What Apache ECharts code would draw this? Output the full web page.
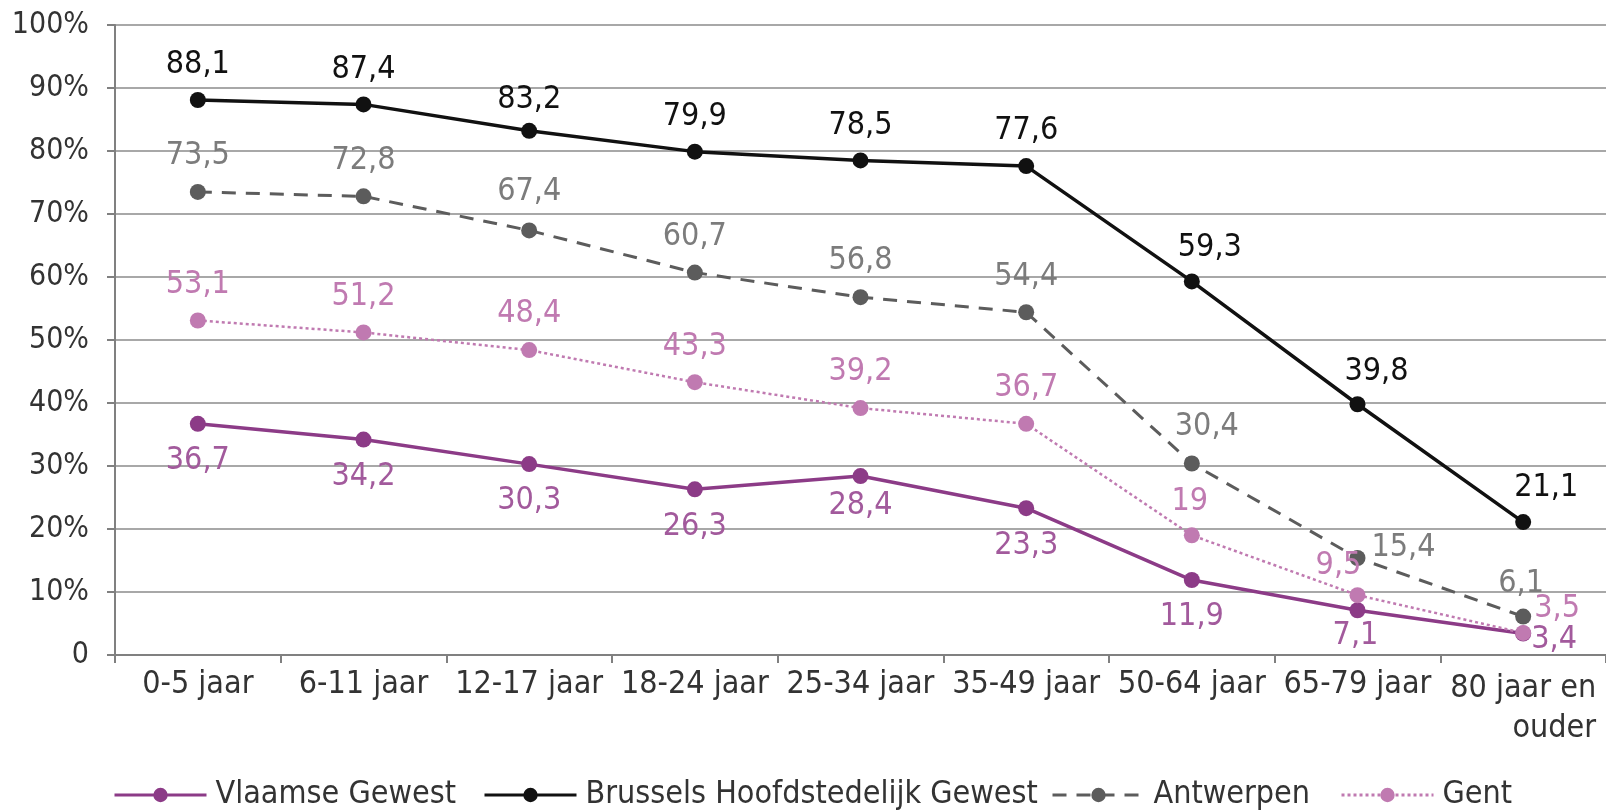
<!DOCTYPE html>
<html>
<head>
<meta charset="utf-8">
<title>chart</title>
<script src="https://cdn.jsdelivr.net/npm/echarts@6/dist/echarts.min.js"></script>
<style>
html, body { margin: 0; padding: 0; background: #fff; }
#main-echarts { width: 1606px; height: 810px; }
</style>
</head>
<body>
<div id="main-echarts"></div>
<script>
// 数据
var categories = ['0-5 jaar', '6-11 jaar', '12-17 jaar', '18-24 jaar', '25-34 jaar', '35-49 jaar', '50-64 jaar', '65-79 jaar', '80 jaar en\nouder'];
var seriesNames = ['Vlaamse Gewest', 'Brussels Hoofdstedelijk Gewest', 'Antwerpen', 'Gent'];
var vlaamse = [36.7, 34.2, 30.3, 26.3, 28.4, 23.3, 11.9, 7.1, 3.4];
var brussel = [88.1, 87.4, 83.2, 79.9, 78.5, 77.6, 59.3, 39.8, 21.1];
var antwerpen = [73.5, 72.8, 67.4, 60.7, 56.8, 54.4, 30.4, 15.4, 6.1];
var gent = [53.1, 51.2, 48.4, 43.3, 39.2, 36.7, 19, 9.5, 3.5];
var yTicks = [0, 10, 20, 30, 40, 50, 60, 70, 80, 90, 100];

var FONT = "'DejaVu Sans Condensed', 'Liberation Sans', sans-serif";

// label offsets (dx, dy from point centre)
function buildData(values, baseDy, tweaks) {
	var arr = [];
	for (var i = 0; i < values.length; i++) {
		var off = tweaks[i] || [0, baseDy];
		arr.push({
			value: values[i],
			label: { offset: off }
		});
	}
	return arr;
}

function fmt(p) {
	return String(p.value).replace('.', ',');
}

function mkSeries(name, values, color, labelColor, lineType, width, baseDy, tweaks, z) {
	return {
		name: name,
		type: 'line',
		data: buildData(values, baseDy, tweaks),
		symbol: 'circle',
		symbolSize: 16,
		z: z,
		itemStyle: { color: color },
		lineStyle: { color: color, width: width, type: lineType },
		label: {
			show: true,
			position: 'inside',
			color: labelColor,
			fontFamily: FONT,
			fontSize: 32,
			formatter: fmt
		},
		emphasis: { disabled: true },
		animation: false
	};
}

var option = {
	backgroundColor: '#fff',
	textStyle: { fontFamily: FONT },
	grid: { left: 115, right: 0, top: 25, bottom: 155 },
	xAxis: {
		type: 'category',
		data: categories,
		boundaryGap: true,
		axisLine: { lineStyle: { color: '#808080', width: 2 } },
		axisTick: { show: true, length: 8, lineStyle: { color: '#808080', width: 2 } },
		axisLabel: {
			color: '#333',
			fontFamily: FONT,
			fontSize: 32,
			margin: 14,
			interval: 0,
			formatter: function (v) {
				if (v.indexOf('\n') > -1) {
					var parts = v.split('\n');
					return '{a|' + parts[0] + '}\n{b|' + parts[1] + '}';
				}
				return v;
			},
			rich: {
				a: { fontFamily: FONT, fontSize: 32, color: '#333', lineHeight: 40 },
				b: { fontFamily: FONT, fontSize: 32, color: '#333', lineHeight: 40, align: 'right' }
			}
		}
	},
	yAxis: {
		type: 'value',
		min: 0,
		max: 100,
		interval: 10,
		axisLine: { show: true, lineStyle: { color: '#808080', width: 2 } },
		axisTick: { show: true, length: 8, lineStyle: { color: '#808080', width: 2 } },
		splitLine: { show: true, lineStyle: { color: '#a8a8a8', width: 2 } },
		axisLabel: {
			color: '#333',
			fontFamily: FONT,
			fontSize: 30,
			margin: 26,
			formatter: function (v) {
				return yTicks.indexOf(v) === 0 ? '0' : v + '%';
			}
		}
	},
	legend: [
		{ data: [seriesNames[0]], left: 108, top: 774 },
		{ data: [seriesNames[1]], left: 478, top: 774 },
		{ data: [seriesNames[2]], left: 1046, top: 774 },
		{ data: [seriesNames[3]], left: 1335, top: 774 }
	].map(function (l) {
		l.itemWidth = 92;
		l.itemHeight = 18;
		l.selectedMode = false;
		l.lineStyle = { width: 3 };
		l.textStyle = { fontFamily: FONT, fontSize: 32, color: '#333', padding: [0, 0, 0, 4] };
		return l;
	}),
	series: [
		mkSeries(seriesNames[0], vlaamse, '#8c3b87', '#a25a9c', 'solid', 3.5, 37,
			{ 4: [0, 30], 7: [-2, 25], 8: [31, 6] }, 2),
		mkSeries(seriesNames[1], brussel, '#111111', '#111111', 'solid', 3.5, -35,
			{ 2: [0, -31], 6: [18, -34], 7: [19, -33], 8: [23, -34] }, 3),
		mkSeries(seriesNames[2], antwerpen, '#5c5c5c', '#7c7c7c', [14, 10], 3, -36,
			{ 2: [0, -39], 6: [15, -37], 7: [46, -10], 8: [-2, -33] }, 4),
		mkSeries(seriesNames[3], gent, '#c07ab1', '#c07ab1', [3, 3], 2.5, -36,
			{ 6: [-2, -34], 7: [-19, -29], 8: [34, -24] }, 5)
	]
};

var myChart = echarts.init(document.getElementById('main-echarts'));
myChart.setOption(option);
</script>
</body>
</html>
